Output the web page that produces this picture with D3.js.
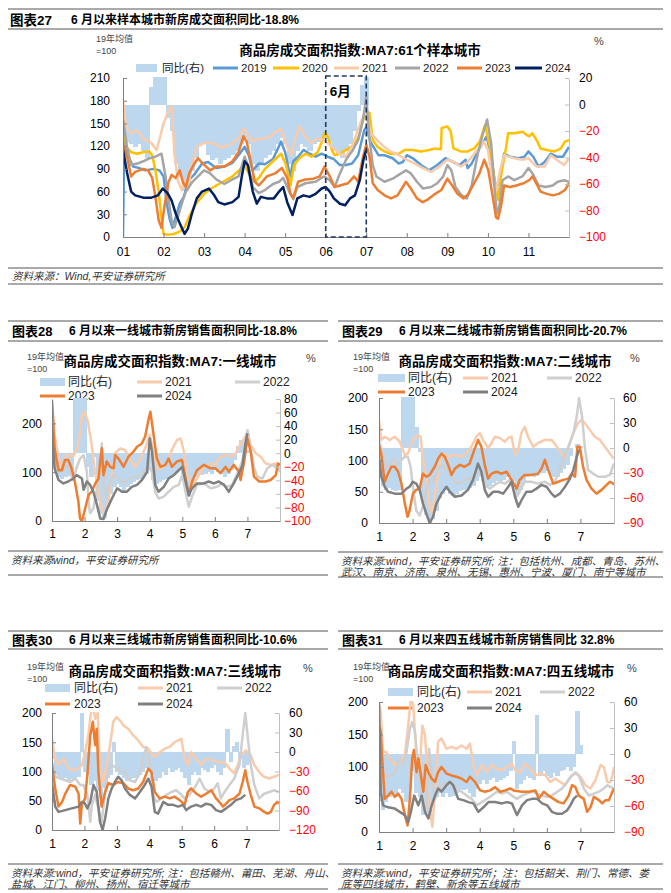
<!DOCTYPE html>
<html><head><meta charset="utf-8">
<script src="https://cdn.jsdelivr.net/npm/d3@7"></script>
<style>body{margin:0;background:#fff;} svg text{font-family:"Liberation Sans","Noto Sans CJK SC",sans-serif;}</style>
</head><body><svg id="c" width="671" height="893"></svg>
<script>
// ---------------- DATA ----------------
const BAR_STEP = 0.1;
const barMonths = d3.range(0, 61).map(i => 1 + i * BAR_STEP); // date grid 1.0 .. 7.0

// Top chart: 61 sample cities
const topXLabels = ["01","02","03","04","05","06","07","08","09","10","11"];
const topYLTicks = [0,30,60,90,120,150,180,210];
const topYRTicks = [-100,-80,-60,-40,-20,0,20];
const topYoY = [-15,-28,-30,-32,-30,-35,-40, 13,50,50,50, -10,-20,-45,-55,-65,-60,-50,-40,-30,-30,
 -38,-42,-40,-45,-42,-40,-38,-35,-30,-25, -30,-45,-50,-45,-40,-38,-35,-30,-25,-30,
 -45,-50,-35,-30,-32,-35,-30,-28,-25,-25, -28,-35,-38,-40,-35,-30,-20,-5,15,22];
const top2019 = [[1.0,0],[1.03,128],[1.1,110],[1.25,93],[1.4,91],[1.55,88],[1.75,90],[1.9,88],[2.0,80],[2.08,44],[2.15,24],[2.22,12],[2.3,26],[2.4,44],[2.5,53],[2.62,75],[2.75,82],[2.95,97],[3.1,99],[3.3,91],[3.5,93],[3.7,98],[3.85,108],[4.0,119],[4.1,108],[4.2,88],[4.35,97],[4.5,96],[4.7,103],[4.9,126],[5.0,112],[5.12,80],[5.2,100],[5.32,106],[5.45,115],[5.6,110],[5.75,106],[5.9,110],[6.05,106],[6.2,103],[6.35,95],[6.5,95],[6.65,97],[6.8,108],[6.95,141],[7.0,145],[7.1,126],[7.3,108],[7.45,108],[7.65,104],[7.8,97],[7.9,99],[8.0,108],[8.15,104],[8.35,95],[8.55,88],[8.75,95],[8.95,104],[9.15,99],[9.3,95],[9.45,102],[9.5,91],[9.6,97],[9.75,113],[9.85,122],[9.97,133],[10.08,106],[10.2,62],[10.3,80],[10.4,110],[10.55,106],[10.75,104],[10.9,106],[11.0,113],[11.12,106],[11.25,93],[11.4,99],[11.55,110],[11.7,106],[11.85,106],[12.0,119]];
const top2020 = [[1.0,157],[1.08,119],[1.2,112],[1.35,110],[1.5,112],[1.65,113],[1.72,108],[1.8,88],[1.88,60],[1.94,30],[2.0,4],[2.1,3],[2.25,4],[2.4,7],[2.52,13],[2.64,28],[2.8,44],[3.0,57],[3.15,63],[3.3,68],[3.5,74],[3.7,80],[3.9,90],[4.0,95],[4.1,84],[4.25,73],[4.35,78],[4.5,90],[4.7,100],[4.9,110],[5.02,95],[5.13,68],[5.22,95],[5.35,104],[5.5,110],[5.65,106],[5.8,112],[5.9,125],[5.97,137],[6.05,133],[6.15,115],[6.22,108],[6.35,110],[6.5,115],[6.7,122],[6.82,133],[6.92,155],[7.0,164],[7.08,164],[7.16,128],[7.28,119],[7.45,113],[7.6,110],[7.8,110],[7.95,115],[8.15,115],[8.35,113],[8.55,115],[8.7,117],[8.84,116],[8.86,144],[9.0,146],[9.08,140],[9.15,117],[9.33,113],[9.5,113],[9.66,117],[9.8,126],[9.93,148],[10.05,119],[10.15,80],[10.25,49],[10.32,80],[10.45,119],[10.5,137],[10.65,137],[10.86,139],[10.95,135],[11.02,133],[11.1,137],[11.22,126],[11.3,117],[11.45,115],[11.65,113],[11.8,117],[11.9,126],[12.0,128]];
const top2021 = [[1.0,181],[1.08,146],[1.2,137],[1.35,141],[1.5,130],[1.7,124],[1.83,115],[1.92,133],[2.0,150],[2.1,164],[2.2,172],[2.27,110],[2.35,75],[2.45,62],[2.52,75],[2.6,62],[2.7,95],[2.82,119],[3.0,124],[3.2,124],[3.45,118],[3.7,124],[3.85,130],[3.97,143],[4.05,138],[4.2,126],[4.35,130],[4.55,130],[4.75,138],[4.9,143],[5.05,119],[5.15,108],[5.25,130],[5.35,146],[5.5,133],[5.65,124],[5.8,130],[6.0,126],[6.15,119],[6.35,110],[6.5,106],[6.65,120],[6.85,150],[6.97,165],[7.05,150],[7.12,137],[7.3,126],[7.45,119],[7.6,113],[7.8,108],[8.0,102],[8.2,97],[8.4,91],[8.6,86],[8.8,93],[9.0,102],[9.17,99],[9.33,93],[9.5,99],[9.66,110],[9.78,117],[9.9,126],[10.0,115],[10.1,80],[10.2,60],[10.3,88],[10.4,108],[10.65,104],[10.85,102],[11.0,104],[11.2,93],[11.4,93],[11.55,108],[11.7,102],[11.88,95],[12.0,104]];
const top2022 = [[1.0,155],[1.1,119],[1.2,95],[1.35,97],[1.5,100],[1.65,104],[1.8,106],[1.95,110],[2.05,80],[2.12,50],[2.2,22],[2.27,13],[2.35,26],[2.45,44],[2.55,60],[2.7,72],[2.85,80],[3.0,88],[3.15,84],[3.3,76],[3.5,70],[3.7,76],[3.85,80],[4.0,106],[4.1,92],[4.2,66],[4.35,58],[4.5,62],[4.7,70],[4.85,73],[4.95,78],[5.1,60],[5.2,50],[5.3,66],[5.5,71],[5.75,73],[5.95,80],[6.1,75],[6.22,66],[6.35,84],[6.5,102],[6.67,115],[6.8,128],[6.92,155],[7.0,185],[7.08,130],[7.16,95],[7.25,80],[7.45,73],[7.65,77],[7.8,82],[7.98,88],[8.1,84],[8.25,73],[8.4,64],[8.6,66],[8.75,71],[8.9,80],[9.0,95],[9.1,88],[9.2,66],[9.35,55],[9.48,51],[9.6,68],[9.75,110],[9.88,137],[9.98,155],[10.08,124],[10.16,66],[10.22,31],[10.28,40],[10.36,75],[10.5,80],[10.65,75],[10.85,80],[11.0,91],[11.1,84],[11.25,68],[11.42,66],[11.6,68],[11.72,73],[11.88,75],[12.0,73]];
const top2023 = [[1.0,122],[1.1,106],[1.2,80],[1.3,86],[1.5,90],[1.62,88],[1.72,78],[1.8,53],[1.88,22],[1.95,12],[2.02,40],[2.12,72],[2.2,82],[2.3,78],[2.4,88],[2.48,72],[2.55,66],[2.64,85],[2.75,96],[2.85,104],[2.97,97],[3.15,88],[3.3,93],[3.5,93],[3.7,100],[3.85,112],[3.97,133],[4.05,126],[4.15,100],[4.25,73],[4.35,68],[4.55,80],[4.75,84],[4.92,91],[5.05,78],[5.13,57],[5.2,52],[5.32,73],[5.5,76],[5.7,77],[5.85,80],[5.97,93],[6.1,80],[6.22,66],[6.35,68],[6.55,71],[6.7,80],[6.8,73],[6.92,106],[7.0,122],[7.08,106],[7.16,71],[7.28,62],[7.45,55],[7.61,51],[7.77,55],[7.9,66],[7.98,73],[8.1,64],[8.25,51],[8.39,46],[8.5,49],[8.7,57],[8.85,62],[9.0,77],[9.12,68],[9.25,57],[9.4,51],[9.52,57],[9.66,71],[9.79,84],[9.91,102],[10.01,88],[10.12,53],[10.2,26],[10.25,24],[10.32,40],[10.4,68],[10.55,66],[10.7,68],[10.88,71],[11.02,75],[11.1,80],[11.22,68],[11.3,60],[11.45,57],[11.6,55],[11.75,57],[11.9,62],[12.0,71]];
const top2024 = [[1.0,115],[1.1,85],[1.2,60],[1.3,55],[1.5,52],[1.7,52],[1.86,55],[1.98,64],[2.1,58],[2.2,48],[2.3,31],[2.4,18],[2.52,4],[2.6,11],[2.7,31],[2.82,51],[2.95,60],[3.12,64],[3.25,55],[3.35,46],[3.5,43],[3.7,46],[3.85,53],[3.93,80],[4.0,100],[4.08,95],[4.2,60],[4.3,44],[4.4,53],[4.55,51],[4.72,51],[4.85,60],[4.95,66],[5.05,46],[5.18,29],[5.3,51],[5.45,55],[5.6,53],[5.75,57],[5.9,64],[6.0,66],[6.1,60],[6.2,51],[6.35,44],[6.48,42],[6.6,51],[6.72,55],[6.84,75],[6.93,102],[7.0,115]];

// Lower charts
const lowXLabels = ["1","2","3","4","5","6","7"];
const p28YLTicks = [0,100,200];
const p28YRTicks = [-100,-80,-60,-40,-20,0,20,40,60,80];
const p29YLTicks = [0,50,100,150,200];
const p29YRTicks = [-90,-60,-30,0,30,60];
const p30YLTicks = [0,50,100,150,200];
const p30YRTicks = [-120,-90,-60,-30,0,30,60];
const p31YLTicks = [0,50,100,150,200];
const p31YRTicks = [-90,-60,-30,0,30,60];

const p28YoY = [-10,-25,-35,-38,-35,-33,-30, 90,90,90,90, -20,-35,-5,-70,-90,-95,-80,-60,-50,-45,
 -50,-55,-50,-45,-42,-40,-38,-35,-30,-25, -40,-45,-42,-40,-38,-35,-30,-28,-25,-30,
 -45,-65,-45,-35,-30,-32,-30,-28,-30,-25, -28,-30,-35,-30,-25,-10,10,20,15,5];
const p28_2021 = [[1.0,248],[1.08,176],[1.2,130],[1.3,111],[1.45,135],[1.65,132],[1.8,152],[1.92,217],[2.0,224],[2.1,204],[2.22,156],[2.32,101],[2.43,60],[2.53,26],[2.63,12],[2.73,40],[2.84,94],[2.94,139],[3.1,149],[3.25,145],[3.4,125],[3.55,111],[3.7,125],[3.86,149],[4.0,176],[4.1,149],[4.22,108],[4.37,108],[4.53,122],[4.7,149],[4.84,166],[4.95,169],[5.05,142],[5.15,94],[5.3,70],[5.45,87],[5.66,111],[5.87,118],[6.02,115],[6.17,132],[6.33,135],[6.53,132],[6.64,139],[6.74,152],[6.9,169],[7.0,183],[7.1,156],[7.25,139],[7.4,132],[7.56,118],[7.71,115],[7.87,118],[8.0,101]];
const p28_2022 = [[1.0,197],[1.08,142],[1.2,101],[1.35,104],[1.5,115],[1.65,84],[1.75,108],[1.86,128],[1.97,135],[2.07,101],[2.12,40],[2.17,16],[2.27,26],[2.38,67],[2.48,115],[2.53,159],[2.58,87],[2.68,46],[2.79,81],[2.9,94],[3.05,87],[3.2,77],[3.36,87],[3.51,91],[3.66,91],[3.81,101],[3.96,111],[4.07,101],[4.17,60],[4.27,46],[4.43,50],[4.58,60],[4.74,70],[4.89,74],[5.0,94],[5.1,60],[5.2,29],[5.3,50],[5.45,74],[5.66,77],[5.87,67],[6.07,70],[6.22,77],[6.38,70],[6.53,74],[6.69,98],[6.84,122],[7.0,186],[7.1,149],[7.2,111],[7.3,91],[7.46,87],[7.61,108],[7.77,115],[7.92,108],[8.0,104]];
const p28_2023 = [[1.0,245],[1.08,149],[1.2,104],[1.3,104],[1.4,125],[1.5,125],[1.6,108],[1.7,81],[1.81,40],[1.86,5],[1.92,0],[2.02,26],[2.12,53],[2.22,60],[2.33,77],[2.43,87],[2.48,122],[2.53,149],[2.58,94],[2.68,122],[2.79,111],[2.89,108],[2.94,135],[3.04,128],[3.2,111],[3.35,132],[3.5,142],[3.61,152],[3.76,159],[3.86,173],[3.97,210],[4.02,224],[4.12,176],[4.22,128],[4.33,111],[4.48,115],[4.58,128],[4.68,111],[4.84,122],[4.99,125],[5.1,87],[5.2,53],[5.3,81],[5.45,104],[5.66,115],[5.87,108],[6.02,108],[6.17,98],[6.33,111],[6.43,101],[6.58,115],[6.74,101],[6.79,84],[6.9,122],[7.0,169],[7.1,142],[7.2,91],[7.36,81],[7.56,81],[7.71,84],[7.87,94],[7.94,118],[8.0,115]];
const p28_2024 = [[1.0,183],[1.08,108],[1.2,84],[1.35,77],[1.5,81],[1.65,87],[1.76,94],[1.92,87],[1.97,64],[2.07,81],[2.17,74],[2.27,60],[2.38,33],[2.48,5],[2.58,4],[2.68,23],[2.84,46],[3.0,67],[3.15,60],[3.3,60],[3.45,70],[3.61,74],[3.76,84],[3.92,101],[4.0,169],[4.07,142],[4.17,74],[4.27,60],[4.43,70],[4.58,87],[4.74,94],[4.89,104],[5.0,111],[5.1,81],[5.2,53],[5.3,67],[5.45,77],[5.66,77],[5.81,81],[5.97,77],[6.12,81],[6.28,74],[6.43,60],[6.58,77],[6.74,98],[6.85,115],[6.95,163],[7.0,180]];

const p29YoY = [-20,-45,-50,-48,-50,-52,-50, 70,70,70,70, 25,-5,-60,-80,-90,-85,-75,-60,-55,-50,
 -55,-58,-55,-52,-50,-50,-48,-45,-40,-35, -40,-48,-45,-42,-40,-40,-38,-35,-35,-40,
 -55,-50,-40,-35,-33,-35,-33,-30,-30,-28, -32,-35,-35,-30,-25,-20,-10,0,5,3];
const p29_2021 = [[1.0,165],[1.07,133],[1.17,138],[1.32,133],[1.47,138],[1.62,130],[1.77,109],[1.86,111],[2.01,133],[2.16,141],[2.24,138],[2.31,101],[2.41,69],[2.51,26],[2.58,15],[2.66,42],[2.76,79],[2.86,106],[2.96,109],[3.11,106],[3.26,109],[3.46,106],[3.6,111],[3.75,122],[3.9,138],[4.0,144],[4.1,133],[4.25,120],[4.35,128],[4.45,138],[4.6,136],[4.75,130],[4.85,136],[4.95,138],[5.05,109],[5.15,117],[5.24,144],[5.34,154],[5.44,138],[5.59,122],[5.74,128],[5.94,133],[6.14,133],[6.3,122],[6.44,111],[6.54,103],[6.64,122],[6.79,144],[6.93,160],[7.03,165],[7.13,160],[7.28,149],[7.43,138],[7.58,133],[7.73,122],[7.88,111],[8.0,103]];
const p29_2022 = [[1.0,133],[1.07,117],[1.17,95],[1.27,90],[1.42,103],[1.52,93],[1.67,101],[1.77,106],[1.86,106],[1.94,90],[2.01,58],[2.11,20],[2.21,12],[2.31,26],[2.41,53],[2.51,69],[2.61,66],[2.71,79],[2.81,90],[2.91,93],[3.06,82],[3.21,69],[3.36,63],[3.5,66],[3.65,71],[3.8,74],[3.95,82],[4.05,79],[4.15,63],[4.3,55],[4.45,61],[4.6,66],[4.75,63],[4.9,69],[5.0,55],[5.1,42],[5.19,50],[5.34,66],[5.54,66],[5.74,63],[5.94,66],[6.09,61],[6.24,66],[6.39,85],[6.54,109],[6.69,128],[6.79,144],[6.89,170],[6.96,200],[7.05,170],[7.13,122],[7.23,85],[7.38,79],[7.53,74],[7.73,74],[7.88,77],[7.98,93],[8.0,95]];
const p29_2023 = [[1.0,125],[1.07,109],[1.17,66],[1.27,79],[1.37,90],[1.47,90],[1.57,82],[1.67,63],[1.77,31],[1.85,10],[1.91,20],[2.01,47],[2.11,53],[2.21,55],[2.31,79],[2.41,74],[2.51,77],[2.66,90],[2.76,103],[2.86,111],[2.96,106],[3.06,93],[3.16,77],[3.26,87],[3.41,93],[3.55,90],[3.7,95],[3.8,111],[3.95,133],[4.05,122],[4.15,93],[4.25,71],[4.35,79],[4.5,82],[4.65,79],[4.8,82],[4.95,69],[5.1,55],[5.19,69],[5.34,77],[5.54,77],[5.74,79],[5.84,87],[5.94,101],[6.04,85],[6.19,63],[6.34,66],[6.49,69],[6.64,71],[6.74,79],[6.84,74],[6.91,122],[6.98,122],[7.08,90],[7.18,69],[7.33,55],[7.48,47],[7.63,53],[7.78,61],[7.88,66],[7.98,63],[8.0,61]];
const p29_2024 = [[1.0,103],[1.07,74],[1.17,58],[1.27,50],[1.47,47],[1.67,47],[1.82,55],[1.91,58],[2.01,66],[2.11,63],[2.21,53],[2.31,31],[2.41,15],[2.51,0],[2.61,10],[2.71,31],[2.86,47],[3.01,58],[3.11,50],[3.26,42],[3.46,44],[3.65,53],[3.8,69],[3.95,95],[4.05,82],[4.15,53],[4.25,42],[4.4,50],[4.55,50],[4.7,47],[4.85,58],[4.95,66],[5.05,42],[5.15,26],[5.24,36],[5.39,50],[5.54,50],[5.69,55],[5.84,61],[5.99,58],[6.14,47],[6.24,42],[6.39,47],[6.54,58],[6.69,71],[6.79,85],[6.89,106],[6.96,117]];

const p30YoY = [-10,-35,-40,-42,-40,-45,-42,-40,-38,60, -30,-35,-50,-45,-60,-70,-55,-40,-35,15,
 -30,-35,-40,-45,-42,-40,-38,-35,-30,-25, -20,-35,-45,-40,-30,-35,-25,-30,-28,-25,
 -30,-40,-50,-35,-30,-35,-25,-28,-30,-25, -20,-30,-35,-25,35,-15,10,15,-10,-25,-20];
const p30_2021 = [[1.0,156],[1.1,122],[1.2,111],[1.36,122],[1.51,105],[1.66,102],[1.82,105],[1.92,111],[2.02,133],[2.12,162],[2.2,200],[2.26,215],[2.33,190],[2.41,200],[2.48,105],[2.58,82],[2.69,111],[2.79,145],[2.89,185],[2.99,193],[3.1,187],[3.2,179],[3.35,173],[3.5,162],[3.66,153],[3.81,142],[3.97,139],[4.07,131],[4.17,125],[4.32,133],[4.48,139],[4.63,142],[4.78,150],[4.89,153],[4.99,156],[5.09,122],[5.19,111],[5.29,133],[5.45,122],[5.6,111],[5.75,122],[5.96,119],[6.11,116],[6.32,116],[6.47,105],[6.62,97],[6.73,111],[6.83,128],[6.98,136],[7.13,128],[7.24,111],[7.39,99],[7.54,91],[7.7,88],[7.85,91],[8.0,94]];
const p30_2022 = [[1.0,116],[1.1,91],[1.26,88],[1.41,85],[1.56,82],[1.72,88],[1.87,77],[1.97,77],[2.09,60],[2.18,14],[2.23,43],[2.33,60],[2.43,37],[2.53,14],[2.64,65],[2.74,105],[2.84,111],[2.94,108],[3.1,102],[3.25,99],[3.4,85],[3.56,82],[3.71,97],[3.81,122],[3.91,142],[4.02,111],[4.12,60],[4.22,48],[4.37,54],[4.53,60],[4.68,65],[4.83,68],[4.99,60],[5.09,54],[5.24,60],[5.45,77],[5.55,88],[5.7,71],[5.86,65],[6.01,71],[6.11,80],[6.21,54],[6.32,65],[6.47,77],[6.62,88],[6.78,111],[6.88,162],[6.96,200],[7.03,162],[7.13,111],[7.24,77],[7.39,54],[7.54,62],[7.7,65],[7.85,68],[8.0,65]];
const p30_2023 = [[1.0,111],[1.1,71],[1.2,40],[1.31,48],[1.41,62],[1.56,77],[1.72,74],[1.82,62],[1.87,11],[1.92,43],[2.02,54],[2.09,94],[2.18,162],[2.26,185],[2.33,145],[2.38,173],[2.43,99],[2.53,40],[2.64,65],[2.74,80],[2.89,77],[3.04,82],[3.2,80],[3.35,71],[3.5,68],[3.66,71],[3.81,82],[3.97,105],[4.07,99],[4.17,65],[4.32,54],[4.48,57],[4.63,54],[4.78,57],[4.94,51],[5.09,43],[5.19,65],[5.29,71],[5.45,62],[5.6,57],[5.75,62],[5.91,68],[6.06,54],[6.16,48],[6.27,40],[6.37,45],[6.47,51],[6.62,54],[6.78,62],[6.88,82],[6.96,102],[7.03,82],[7.13,60],[7.24,40],[7.39,37],[7.54,31],[7.65,28],[7.75,31],[7.85,43],[7.95,48],[8.0,45]];
const p30_2024 = [[1.0,80],[1.1,40],[1.2,31],[1.41,34],[1.61,37],[1.82,40],[1.92,48],[2.02,45],[2.09,37],[2.18,48],[2.28,77],[2.38,65],[2.48,14],[2.56,0],[2.64,20],[2.74,54],[2.84,71],[2.94,82],[3.04,91],[3.15,85],[3.25,71],[3.4,60],[3.56,54],[3.71,65],[3.86,77],[3.97,88],[4.07,74],[4.17,31],[4.27,28],[4.43,48],[4.58,43],[4.73,43],[4.89,40],[5.04,43],[5.14,34],[5.29,40],[5.45,43],[5.6,40],[5.75,45],[5.91,43],[6.06,34],[6.21,31],[6.37,37],[6.52,43],[6.67,51],[6.83,54],[6.96,60]];

const p31YoY = [-40,-65,-55,-50,-45,-50,-40,-45,-55,-40, -20,-45,-50,-70,-60,-75,-60,-50,-45,-50,
 -45,-50,-48,-45,-40,-42,-40,-45,-50,-40, -35,-30,-35,-30,-28,-32,-30,-28,-25,-20,
 15,-40,-35,-30,-25,-28,-30,45,-25,-20, -25,-28,-22,-25,-20,-18,-15,-20,-15,50, 10];
const p31_2021 = [[1.0,200],[1.05,185],[1.12,123],[1.22,123],[1.32,113],[1.47,103],[1.62,108],[1.77,118],[1.87,164],[1.95,205],[2.02,195],[2.12,113],[2.22,103],[2.29,164],[2.37,149],[2.45,87],[2.52,31],[2.59,8],[2.67,62],[2.76,139],[2.86,144],[3.01,128],[3.16,131],[3.31,128],[3.46,133],[3.61,128],[3.71,136],[3.81,103],[3.91,87],[4.06,103],[4.21,92],[4.36,103],[4.51,97],[4.66,95],[4.81,100],[4.96,105],[5.06,95],[5.21,92],[5.36,105],[5.51,97],[5.66,87],[5.81,90],[5.96,87],[6.1,77],[6.25,82],[6.4,77],[6.55,72],[6.7,85],[6.85,90],[7.0,85],[7.15,72],[7.3,67],[7.45,80],[7.6,103],[7.7,100],[7.8,77],[7.9,77],[7.95,87],[8.0,100]];
const p31_2022 = [[1.0,164],[1.07,97],[1.17,87],[1.32,85],[1.47,92],[1.62,113],[1.72,103],[1.82,123],[1.92,159],[1.99,169],[2.07,154],[2.17,97],[2.25,72],[2.32,41],[2.42,31],[2.49,128],[2.57,87],[2.67,51],[2.76,67],[2.86,72],[3.01,77],[3.16,72],[3.31,67],[3.46,62],[3.61,56],[3.76,51],[3.91,41],[4.06,46],[4.21,51],[4.36,56],[4.51,62],[4.66,59],[4.81,62],[4.96,56],[5.11,51],[5.26,56],[5.41,59],[5.56,62],[5.71,59],[5.86,56],[6.01,54],[6.15,56],[6.31,62],[6.45,67],[6.6,77],[6.75,87],[6.85,92],[6.95,87],[7.1,67],[7.25,56],[7.4,59],[7.55,62],[7.7,67],[7.8,72],[7.9,69],[8.0,67]];
const p31_2023 = [[1.0,164],[1.05,154],[1.12,92],[1.17,51],[1.27,56],[1.37,62],[1.47,54],[1.57,59],[1.67,51],[1.77,26],[1.85,10],[1.92,51],[1.99,113],[2.04,126],[2.12,92],[2.17,113],[2.25,87],[2.32,62],[2.39,103],[2.47,92],[2.57,82],[2.67,77],[2.76,92],[2.86,100],[3.01,90],[3.16,87],[3.31,85],[3.46,82],[3.61,77],[3.71,85],[3.86,77],[4.01,64],[4.16,62],[4.31,64],[4.46,69],[4.61,62],[4.76,64],[4.91,67],[5.01,64],[5.26,62],[5.46,62],[5.66,64],[5.76,51],[5.91,62],[6.05,56],[6.2,51],[6.35,46],[6.5,44],[6.65,56],[6.75,72],[6.85,69],[6.95,56],[7.1,51],[7.2,31],[7.3,38],[7.4,54],[7.55,49],[7.65,44],[7.75,49],[7.85,49],[7.95,62],[8.0,67]];
const p31_2024 = [[1.0,195],[1.05,62],[1.12,41],[1.27,38],[1.47,36],[1.62,31],[1.77,26],[1.87,15],[1.95,31],[2.05,56],[2.17,41],[2.27,56],[2.37,31],[2.47,21],[2.57,41],[2.67,56],[2.76,67],[2.86,62],[3.01,72],[3.11,77],[3.21,72],[3.36,51],[3.51,49],[3.66,46],[3.81,44],[3.96,31],[4.11,38],[4.26,46],[4.46,46],[4.66,44],[4.81,46],[4.96,44],[5.11,26],[5.26,41],[5.41,49],[5.56,51],[5.71,51],[5.86,44],[6.01,41],[6.15,31],[6.31,28],[6.45,28],[6.6,33],[6.7,41],[6.8,51],[6.9,56]];

// ---------------- STYLE ----------------
const COL = {bar:"#BDD7EE", y2019:"#5B9BD5", y2020:"#FFC000", y2021:"#F8CBAD", y2022:"#A5A5A5",
  y2023:"#ED7D31", y2024:"#002060", y2022b:"#CFCFCF", y2024b:"#808080"};

const svg = d3.select("#c");

function T(x, y, s, o = {}) {
  const t = svg.append("text").attr("x", x).attr("y", y).attr("dominant-baseline", "central").text(s)
    .attr("font-size", o.size || 12).attr("fill", o.fill || "#000").attr("text-anchor", o.anchor || "start");
  if (o.bold) t.attr("font-weight", "bold");
  if (o.italic) t.attr("font-style", "italic");
  return t;
}
function HL(x1, x2, y, c = "#555", w = 1) {
  svg.append("line").attr("x1", x1).attr("x2", x2).attr("y1", y).attr("y2", y).attr("stroke", c).attr("stroke-width", w);
}

function drawPanel(p) {
  const x = d3.scaleLinear().domain(p.xDom).range([p.x0, p.x1]);
  const yL = d3.scaleLinear().domain(p.yLDom).range([p.yB, p.yT]);
  const yR = d3.scaleLinear().domain(p.yRDom).range([p.yB, p.yT]);
  const cid = "clip" + p.id;
  svg.append("clipPath").attr("id", cid).append("rect")
    .attr("x", p.x0).attr("y", p.yT - 1).attr("width", p.x1 - p.x0).attr("height", p.yB - p.yT + 1);
  const plot = svg.append("g").attr("clip-path", `url(#${cid})`);
  const bw = x(1 + BAR_STEP) - x(1);
  plot.append("g").attr("shape-rendering", "crispEdges").selectAll("rect").data(p.bars).join("rect")
    .attr("x", (d, i) => x(barMonths[i]) - bw / 2).attr("width", bw + 1)
    .attr("y", d => Math.min(yR(d), yR(0))).attr("height", d => Math.abs(yR(d) - yR(0)))
    .attr("fill", COL.bar);
  const line = d3.line().x(d => x(d[0])).y(d => yL(d[1]));
  p.series.forEach(s => {
    plot.append("path").datum(s.data).attr("d", line).attr("fill", "none")
      .attr("stroke", s.color).attr("stroke-width", s.w || 2.5).attr("stroke-linejoin", "round");
  });
  const style = (g, col) => {
    g.attr("font-family", null).attr("font-size", p.fs);
    g.select(".domain").attr("stroke", col);
    g.selectAll(".tick line").attr("stroke", col);
    g.selectAll(".tick text").attr("fill", "#000");
  };
  svg.append("g").attr("transform", `translate(${p.x0},0)`)
    .call(d3.axisLeft(yL).tickValues(p.yLTicks).tickSize(-4).tickSizeOuter(0).tickPadding(p.lPad))
    .call(g => style(g, "#808080"));
  svg.append("g").attr("transform", `translate(${p.x1},0)`)
    .call(d3.axisRight(yR).tickValues(p.yRTicks).tickSize(-4).tickSizeOuter(0).tickPadding(p.rPad))
    .call(g => { style(g, "#BFBFBF"); g.selectAll(".tick text").attr("fill", d => d < 0 ? "#FF0000" : "#000"); });
  svg.append("g").attr("transform", `translate(0,${p.yB})`)
    .call(d3.axisBottom(x).tickValues(p.xTicks).tickFormat((d, i) => p.xLabels[i]).tickSize(-4).tickSizeOuter(0).tickPadding(p.bPad))
    .call(g => style(g, "#808080"));
  return {x, yL, yR};
}

function legend(items, y, size) {
  items.forEach(it => {
    if (it.type === "bar") {
      svg.append("rect").attr("x", it.a).attr("y", y - 4).attr("width", it.b - it.a).attr("height", 8).attr("fill", COL.bar);
    } else {
      svg.append("line").attr("x1", it.a).attr("x2", it.b).attr("y1", y).attr("y2", y)
        .attr("stroke", it.color).attr("stroke-width", 3);
    }
    T(it.t, y, it.label, {size, fill: "#222"});
  });
}

// ---------------- TOP CHART ----------------
HL(8, 663, 9); HL(8, 663, 29);
T(10, 20, "图表27", {size: 13.5, bold: true});
T(71, 20, "6 月以来样本城市新房成交面积同比-18.8%", {size: 12, bold: true});
T(96, 39, "19年均值", {size: 9, fill: "#444"});
T(96, 51, "=100", {size: 9, fill: "#444"});
T(360, 50, "商品房成交面积指数:MA7:61个样本城市", {size: 13.5, bold: true, anchor: "middle"});
T(594, 41, "%", {size: 11, fill: "#444"});
legend([
  {type: "bar", a: 136, b: 157, t: 162, label: "同比(右)"},
  {a: 213, b: 238, t: 241, color: COL.y2019, label: "2019"},
  {a: 273, b: 299, t: 302, color: COL.y2020, label: "2020"},
  {a: 334, b: 359, t: 362, color: COL.y2021, label: "2021"},
  {a: 395, b: 420, t: 423, color: COL.y2022, label: "2022"},
  {a: 457, b: 482, t: 485, color: COL.y2023, label: "2023"},
  {a: 515, b: 542, t: 545, color: COL.y2024, label: "2024"}
], 68, 11.5);

const topSc = drawPanel({
  id: "top", x0: 123, x1: 569, yT: 78, yB: 237, xDom: [1, 12], yLDom: [0, 210], yRDom: [-100, 20],
  yLTicks: topYLTicks, yRTicks: topYRTicks, xTicks: d3.range(1, 12), xLabels: topXLabels,
  lPad: 13, rPad: 10, bPad: 10, fs: 12, bars: topYoY,
  series: [
    {data: top2019, color: COL.y2019}, {data: top2020, color: COL.y2020},
    {data: top2021, color: COL.y2021}, {data: top2022, color: COL.y2022},
    {data: top2023, color: COL.y2023}, {data: top2024, color: COL.y2024}
  ]
});
svg.append("rect").attr("x", topSc.x(6)).attr("y", 76).attr("width", topSc.x(7) - topSc.x(6)).attr("height", 237 - 76)
  .attr("fill", "none").attr("stroke", "#1F3864").attr("stroke-width", 1.6).attr("stroke-dasharray", "5,3");
T(topSc.x(6) + 4, 91, "6月", {size: 13.5, bold: true});
HL(8, 663, 268); HL(8, 663, 284);
T(12, 276, "资料来源：Wind,平安证券研究所", {size: 10.5, italic: true, fill: "#333"});

// ---------------- LOWER PANELS ----------------
function lowerPanel(cfg) {
  HL(cfg.L, cfg.R, cfg.hy1); HL(cfg.L, cfg.R, cfg.hy2);
  T(cfg.L + 4, (cfg.hy1 + cfg.hy2) / 2, cfg.fig, {size: 13, bold: true});
  T(cfg.L + 61, (cfg.hy1 + cfg.hy2) / 2, cfg.head, {size: 12, bold: true});
  T(cfg.unitX, cfg.titleY - 4, "19年均值", {size: 9, fill: "#444"});
  T(cfg.unitX, cfg.titleY + 8, "=100", {size: 9, fill: "#444"});
  T(cfg.titleX, cfg.titleY, cfg.title, {size: 13.5, bold: true, anchor: "middle"});
  T(cfg.pctX, cfg.titleY - 3, "%", {size: 11, fill: "#444"});
  const [a, b, c] = cfg.lx;
  legend([
    {type: "bar", a: a[0], b: a[1], t: a[2], label: "同比(右)"},
    {a: b[0], b: b[1], t: b[2], color: COL.y2021, label: "2021"},
    {a: c[0], b: c[1], t: c[2], color: COL.y2022b, label: "2022"}
  ], cfg.ly1, 12);
  legend([
    {a: a[0], b: a[1], t: a[2], color: COL.y2023, label: "2023"},
    {a: b[0], b: b[1], t: b[2], color: COL.y2024b, label: "2024"}
  ], cfg.ly2, 12);
  drawPanel(Object.assign({xDom: [1, 8], xTicks: d3.range(1, 8), xLabels: lowXLabels, fs: 12,
    series: [
      {data: cfg.d21, color: COL.y2021}, {data: cfg.d22, color: COL.y2022b},
      {data: cfg.d23, color: COL.y2023}, {data: cfg.d24, color: COL.y2024b}
    ]}, cfg.plot));
  HL(cfg.L, cfg.R, cfg.sy1); HL(cfg.L, cfg.R, cfg.sy2);
  cfg.src.forEach((s, i) => T(cfg.L + 3, cfg.sy1 + 9 + i * 11, s, {size: 10.5, italic: true, fill: "#333"}));
}

lowerPanel({
  L: 8, R: 328, hy1: 321, hy2: 341, fig: "图表28", head: "6 月以来一线城市新房销售面积同比-18.8%",
  unitX: 27, titleX: 170, titleY: 361, pctX: 306, title: "商品房成交面积指数:MA7:一线城市",
  lx: [[40, 65, 68], [137, 162, 165], [235, 260, 263]], ly1: 382, ly2: 396,
  d21: p28_2021, d22: p28_2022, d23: p28_2023, d24: p28_2024,
  plot: {id: "p28", x0: 52, x1: 280, yT: 399, yB: 521, yLDom: [0, 250], yRDom: [-100, 80],
    yLTicks: p28YLTicks, yRTicks: p28YRTicks, lPad: 10, rPad: 4, bPad: 8, bars: p28YoY},
  sy1: 551, sy2: 575, src: ["资料来源wind，平安证券研究所"]
});
lowerPanel({
  L: 338, R: 663, hy1: 321, hy2: 341, fig: "图表29", head: "6 月以来二线城市新房销售面积同比-20.7%",
  unitX: 353, titleX: 505, titleY: 361, pctX: 630, title: "商品房成交面积指数:MA7:二线城市",
  lx: [[378, 405, 408], [463, 488, 491], [547, 572, 575]], ly1: 378, ly2: 392,
  d21: p29_2021, d22: p29_2022, d23: p29_2023, d24: p29_2024,
  plot: {id: "p29", x0: 379, x1: 614, yT: 398, yB: 523, yLDom: [0, 200], yRDom: [-90, 60],
    yLTicks: p29YLTicks, yRTicks: p29YRTicks, lPad: 11, rPad: 9, bPad: 9, bars: p29YoY},
  sy1: 552, sy2: 577, src: ["资料来源:wind，平安证券研究所; 注：包括杭州、成都、青岛、苏州、", "武汉、南京、济南、泉州、无锡、惠州、宁波、厦门、南宁等城市"]
});
lowerPanel({
  L: 8, R: 328, hy1: 631, hy2: 649, fig: "图表30", head: "6 月以来三线城市新房销售面积同比-10.6%",
  unitX: 27, titleX: 175, titleY: 671, pctX: 303, title: "商品房成交面积指数:MA7:三线城市",
  lx: [[45, 70, 74], [138, 163, 166], [217, 242, 245]], ly1: 688, ly2: 704,
  d21: p30_2021, d22: p30_2022, d23: p30_2023, d24: p30_2024,
  plot: {id: "p30", x0: 52, x1: 279, yT: 713, yB: 830, yLDom: [0, 200], yRDom: [-120, 60],
    yLTicks: p30YLTicks, yRTicks: p30YRTicks, lPad: 10, rPad: 10, bPad: 9, bars: p30YoY},
  sy1: 864, sy2: 889, src: ["资料来源:wind，平安证券研究所; 注：包括赣州、莆田、芜湖、舟山、", "盐城、江门、柳州、扬州、宿迁等城市"]
});
lowerPanel({
  L: 338, R: 663, hy1: 631, hy2: 649, fig: "图表31", head: "6 月以来四五线城市新房销售同比 32.8%",
  unitX: 353, titleX: 501, titleY: 671, pctX: 627, title: "商品房成交面积指数:MA7:四五线城市",
  lx: [[388, 413, 417], [467, 492, 495], [540, 565, 568]], ly1: 692, ly2: 708,
  d21: p31_2021, d22: p31_2022, d23: p31_2023, d24: p31_2024,
  plot: {id: "p31", x0: 379, x1: 614, yT: 702, yB: 832, yLDom: [0, 200], yRDom: [-90, 60],
    yLTicks: p31YLTicks, yRTicks: p31YRTicks, lPad: 11, rPad: 10, bPad: 9, bars: p31YoY},
  sy1: 864, sy2: 889, src: ["资料来源:wind，平安证券研究所；注：包括韶关、荆门、常德、娄", "底等四线城市，鹤壁、新余等五线城市"]
});
</script></body></html>
